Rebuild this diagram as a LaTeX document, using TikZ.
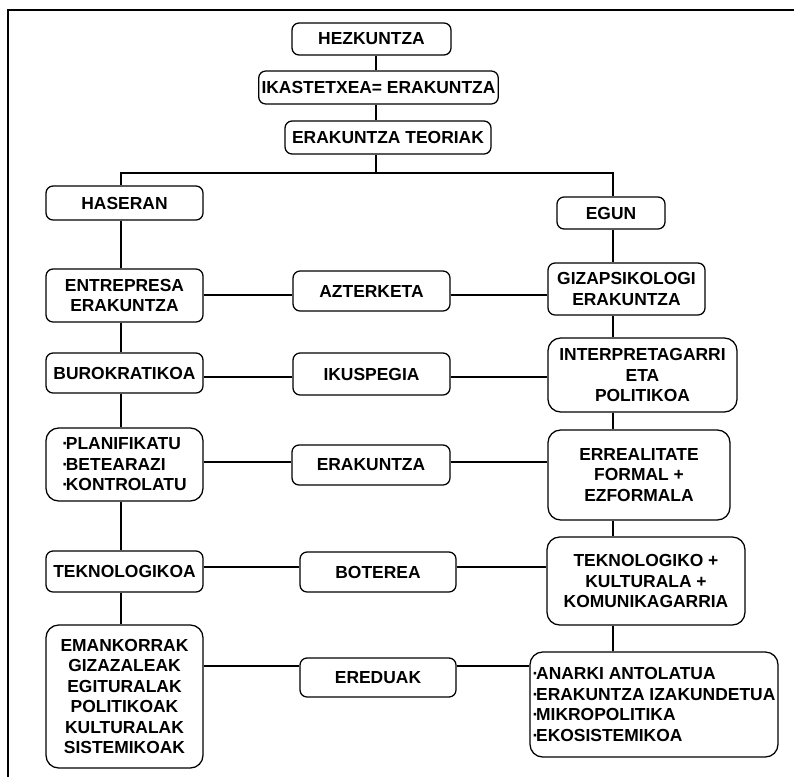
\documentclass[tikz,border=0pt]{standalone}
\usepackage{fontspec}
\setmainfont{Liberation Sans}
\usetikzlibrary{positioning}

\newcommand{\dotitem}{·\kern-1.6pt}

\begin{document}
\begin{tikzpicture}[x=0.025cm, y=-0.025cm,
        % define styles
        box/.style={
             draw,
             line width=0.9pt,
             rounded corners=5pt,
             inner sep=2pt,
             align=center,
             font=\fontsize{12.4pt}{14.6pt}\selectfont\bfseries
        },
        big/.style={
             box,
             rounded corners=9pt
        },
        sz/.style 2 args={
             minimum width=#1*0.025cm,
             minimum height=#2*0.025cm
        },
        conn/.style={
             line width=1.5pt
        },
        frame/.style={
             line width=1.6pt
        }
    ]
        \useasboundingbox (0,0) rectangle (794,776);
        \clip (0,0) rectangle (794,776);

        % frame of the page
        \draw[frame] (8,800) -- (8,10) -- (820,10);

        % top column
        \node[box,sz={159}{32}] at (371.5,39)   (hezk)  {HEZKUNTZA};
        \node[box,sz={239}{33}] at (378.5,87.5) (ikast) {IKASTETXEA= ERAKUNTZA};
        \node[box,sz={206}{33}] at (388,137.5)  (teori) {ERAKUNTZA TEORIAK};

        % left column
        \node[box,sz={157}{34}]  at (124.5,203)   (haser) {HASERAN};
        \node[box,sz={157}{53}]  at (124.5,295.5) (entre) {ENTREPRESA\\ERAKUNTZA};
        \node[box,sz={157}{40}]  at (124.5,373)   (buro)  {BUROKRATIKOA};
        \node[big,sz={157}{73},align=left] at (124.5,464.5) (plan)
            {\dotitem PLANIFIKATU\\\dotitem BETEARAZI\\\dotitem KONTROLATU};
        \node[box,sz={157}{41}]  at (124.5,571.5) (tekno) {TEKNOLOGIKOA};
        \node[big,sz={157}{143}] at (124.5,696.5) (emank)
            {EMANKORRAK\\GIZAZALEAK\\EGITURALAK\\POLITIKOAK\\KULTURALAK\\SISTEMIKOAK};

        % middle column
        \node[box,sz={157}{40}] at (371.5,291) (azter) {AZTERKETA};
        \node[box,sz={157}{42}] at (371.5,374) (ikusp) {IKUSPEGIA};
        \node[box,sz={158}{40}] at (371,465)   (erak)  {ERAKUNTZA};
        \node[box,sz={156}{40}] at (378,572)   (boter) {BOTEREA};
        \node[box,sz={156}{39}] at (378,677.5) (ered)  {EREDUAK};

        % right column
        \node[box,sz={108}{32}] at (611,213)   (egun)   {EGUN};
        \node[box,sz={157}{52}] at (626.5,289) (gizap)  {GIZAPSIKOLOGI\\ERAKUNTZA};
        \node[big,sz={189}{74}] at (642.5,375) (interp) {INTERPRETAGARRI\\ETA\\POLITIKOA};
        \node[big,sz={182}{90}] at (639,475)   (erreal) {ERREALITATE\\FORMAL +\\EZFORMALA};
        \node[big,sz={198}{88}] at (646,581)   (teknk)  {TEKNOLOGIKO +\\KULTURALA +\\KOMUNIKAGARRIA};
        \node[big,sz={248}{105},align=left,inner xsep=1pt] at (654,704.5) (anark)
            {\dotitem ANARKI ANTOLATUA\\\dotitem ERAKUNTZA IZAKUNDETUA\\\dotitem MIKROPOLITIKA\\\dotitem EKOSISTEMIKOA};

        % spines and rows
        \coordinate (top) at (376,0);
        \coordinate (lsp) at (121,0);
        \coordinate (rsp) at (613,0);
        \coordinate (bar) at (0,173);
        \coordinate (row1) at (0,295);
        \coordinate (row2) at (0,377);
        \coordinate (row3) at (0,462);
        \coordinate (row4) at (0,567);
        \coordinate (row5) at (0,666);

        \draw[conn] (hezk.south -| top) -- (ikast.north -| top);
        \draw[conn] (ikast.south -| top) -- (teori.north -| top);
        \draw[conn] (teori.south -| top) -- (top |- bar);
        \draw[conn] (haser.north -| lsp) -- (lsp |- bar) -- (rsp |- bar) -- (egun.north -| rsp);

        \foreach \a/\b in {haser/entre, entre/buro, buro/plan, plan/tekno, tekno/emank}
            \draw[conn] (\a.south -| lsp) -- (\b.north -| lsp);
        \foreach \a/\b in {egun/gizap, gizap/interp, interp/erreal, erreal/teknk, teknk/anark}
            \draw[conn] (\a.south -| rsp) -- (\b.north -| rsp);

        % cross links
        \foreach \l/\m/\r/\y in {entre/azter/gizap/row1, buro/ikusp/interp/row2,
                plan/erak/erreal/row3, tekno/boter/teknk/row4, emank/ered/anark/row5}
        {
            \draw[conn] (\l.east |- \y) -- (\m.west |- \y);
            \draw[conn] (\m.east |- \y) -- (\r.west |- \y);
        }
    \end{tikzpicture}
\end{document}
